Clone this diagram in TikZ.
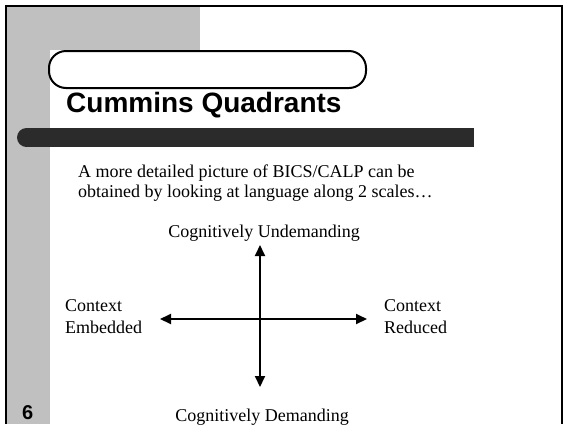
\documentclass[tikz,border=0pt]{standalone}
\usepackage{fontspec}
\setmainfont{Liberation Serif}
\newfontfamily\slidesans{Liberation Sans}
\usetikzlibrary{arrows.meta}
\definecolor{slidegray}{HTML}{C0C0C0}
\definecolor{bardark}{HTML}{2B2B2B}
\tikzset{
  txt/.style={inner sep=0pt,font=\fontsize{18}{20}\selectfont},
  axis/.style={line width=2pt,{Triangle[length=11pt,width=10pt]}-{Triangle[length=11pt,width=10pt]}}
}
\begin{document}
\begin{tikzpicture}[x=1pt,y=-1pt]
\useasboundingbox (0,0) rectangle (565,424);
% slide background
\fill[slidegray] (5,5) rectangle (50,424);
\fill[slidegray] (5,5) rectangle (200,50);
\draw[line width=2pt] (5.5,424) -- (5.5,5.5) -- (561.5,5.5) -- (561.5,424);
\draw[line width=2pt,fill=white,rounded corners=17pt] (49,51) rectangle (366,88);
\fill[bardark] (26.5,137.5) circle[radius=9.5pt];
\fill[bardark] (26.5,128) rectangle (474,147);
% texts
\node[anchor=base west,inner sep=0pt,font=\slidesans\bfseries\fontsize{28}{30}\selectfont] (title) at (66,112) {Cummins Quadrants};
\node[txt,anchor=base west] (intro1) at (78,177) {A more detailed picture of BICS/CALP can be};
\node[txt,anchor=base west] (intro2) at (78,197) {obtained by looking at language along 2 scales…};
\node[txt,anchor=base] (undem) at (264,237) {Cognitively Undemanding};
\node[txt,anchor=base] (dem) at (262,421) {Cognitively Demanding};
\node[txt,anchor=base west] (embA) at (65,311) {Context};
\node[txt,anchor=base west] (embB) at (65,333) {Embedded};
\node[txt,anchor=base west] (redA) at (384,311) {Context};
\node[txt,anchor=base west] (redB) at (384,333) {Reduced};
\node[anchor=base west,inner sep=0pt,font=\slidesans\bfseries\fontsize{20}{22}\selectfont] (slideno) at (22,419) {6};
% the two scales
\coordinate (up) at (260,245);
\coordinate (down) at (260,387);
\coordinate (left) at (160,319);
\coordinate (right) at (367,319);
\draw[axis] (down) -- (up);
\draw[axis] (left) -- (right);
\end{tikzpicture}
\end{document}
